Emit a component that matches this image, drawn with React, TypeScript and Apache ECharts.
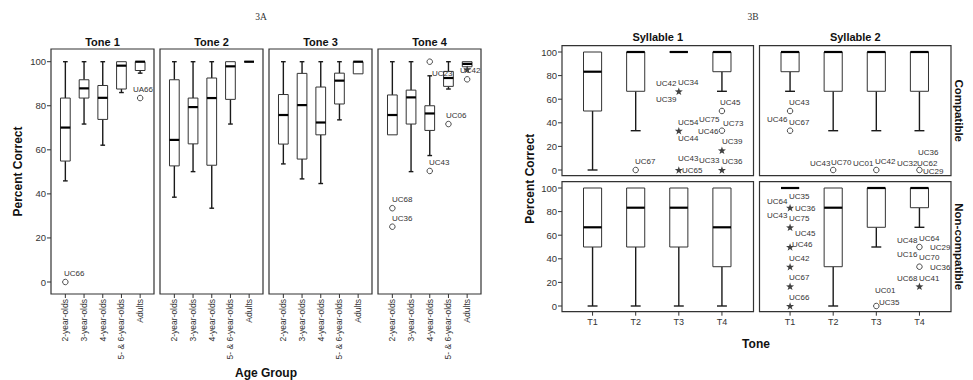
import React, { useEffect, useRef } from "react";
import * as echarts from "echarts";

// ---------------- data ----------------
const AGE_GROUPS = ["2-year-olds", "3-year-olds", "4-year-olds", "5- & 6-year-olds", "Adults"];
const TONE_TITLES = ["Tone 1", "Tone 2", "Tone 3", "Tone 4"];
const TONE_NAMES = ["T1", "T2", "T3", "T4"];
const SYLLABLE_TITLES = ["Syllable 1", "Syllable 2"];
const CONDITION_TITLES = ["Compatible", "Non-compatible"];
const Y_TICKS = [0, 20, 40, 60, 80, 100];

// box stats per category: [low whisker, Q1, median, Q3, high whisker]
const TONE1_BOXES = [
  [45.9, 54.9, 70.1, 83.5, 100],
  [71.7, 83.5, 87.9, 91.8, 100],
  [62.1, 73.8, 83.6, 89.2, 100],
  [86.0, 87.6, 98.2, 100, 100],
  [94.8, 96.0, 100, 100, 100],
];
const TONE2_BOXES = [
  [38.5, 52.7, 64.5, 91.8, 100],
  [50.1, 62.7, 79.4, 83.5, 100],
  [33.5, 53.0, 83.5, 92.6, 100],
  [71.7, 82.9, 97.9, 100, 100],
  [100, 100, 100, 100, 100],
];
const TONE3_BOXES = [
  [53.6, 62.6, 75.8, 85.1, 100],
  [46.8, 55.8, 80.3, 94.7, 100],
  [44.7, 66.8, 72.4, 88.5, 100],
  [73.6, 80.8, 91.4, 94.8, 100],
  [94.5, 94.5, 100, 100, 100],
];
const TONE4_BOXES = [
  [66.8, 66.8, 75.8, 84.9, 100],
  [50.1, 71.7, 83.8, 87.1, 100],
  [57.4, 68.8, 76.5, 80.0, 93.6],
  [87.6, 88.8, 92.6, 95.6, 100],
  [97.7, 97.7, 99.0, 100, 100],
];
// outliers: [category index, value, marker]
const TONE1_OUTLIERS = [[0, 0, "circle"], [4, 83.5, "circle"]];
const TONE4_OUTLIERS = [
  [0, 33.5, "circle"], [0, 25.1, "circle"], [2, 100, "circle"], [2, 50.4, "circle"],
  [3, 71.7, "circle"], [4, 96.5, "star"], [4, 92, "circle"],
];
// case labels: [category index, value, text]
const TONE1_LABELS = [[0, 0, "UC66"], [4, 83.5, "UA66"]];
const TONE1_LABEL_OFFSETS = [[-1, -9], [-7, -9]];
const TONE4_LABELS = [
  [0, 33.5, "UC68"], [0, 25.1, "UC36"], [2, 100, "UC23"], [2, 50.4, "UC43"],
  [3, 71.7, "UC06"], [4, 96.5, "UC42"],
];
const TONE4_LABEL_OFFSETS = [[0, -9], [0, -9], [2, 11], [-1, -9], [-2, -9], [-7, 1]];

const SYL1_COMP_BOXES = [
  [0, 50, 83.3, 100, 100],
  [33.3, 66.7, 100, 100, 100],
  [100, 100, 100, 100, 100],
  [66.7, 83.3, 100, 100, 100],
];
const SYL2_COMP_BOXES = [
  [66.7, 83.3, 100, 100, 100],
  [33.3, 66.7, 100, 100, 100],
  [33.3, 66.7, 100, 100, 100],
  [33.3, 66.7, 100, 100, 100],
];
const SYL1_NONCOMP_BOXES = [
  [0, 50, 66.7, 100, 100],
  [0, 50, 83.3, 100, 100],
  [0, 50, 83.3, 100, 100],
  [0, 33.3, 66.7, 100, 100],
];
const SYL2_NONCOMP_BOXES = [
  [100, 100, 100, 100, 100],
  [0, 33.3, 83.3, 100, 100],
  [50, 66.7, 100, 100, 100],
  [66.7, 83.3, 100, 100, 100],
];
const SYL1_COMP_OUTLIERS = [
  [1, 0, "circle"], [2, 66.7, "star"], [2, 33.3, "star"], [2, 0, "star"],
  [3, 50, "circle"], [3, 33.3, "circle"], [3, 16.7, "star"], [3, 0, "star"],
];
const SYL1_COMP_LABELS = [
  [1, 0, "UC67"],
  [2, 66.7, "UC42"], [2, 66.7, "UC34"], [2, 66.7, "UC39"],
  [2, 33.3, "UC54"], [2, 33.3, "UC75"], [2, 33.3, "UC44"],
  [2, 0, "UC43"], [2, 0, "UC33"], [2, 0, "UC65"],
  [3, 50, "UC45"], [3, 33.3, "UC46"], [3, 33.3, "UC73"], [3, 16.7, "UC39"], [3, 0, "UC36"],
];
const SYL1_COMP_LABEL_OFFSETS = [
  [-1, -9],
  [-23, -8], [-1, -9.5], [-23, 8],
  [-1, -9], [20, -11.5], [-1, 7],
  [-1, -12.5], [20, -10], [3, 0],
  [-2, -9.5], [-24, 0], [1, -7.5], [0, -9], [0, -9.5],
];
const SYL2_COMP_OUTLIERS = [
  [0, 50, "circle"], [0, 33.3, "circle"], [1, 0, "circle"], [2, 0, "circle"], [3, 0, "circle"],
];
const SYL2_COMP_LABELS = [
  [0, 50, "UC43"], [0, 33.3, "UC46"], [0, 33.3, "UC67"],
  [1, 0, "UC43"], [1, 0, "UC70"], [2, 0, "UC01"], [2, 0, "UC42"],
  [3, 0, "UC32"], [3, 0, "UC62"], [3, 0, "UC36"], [3, 0, "UC29"],
];
const SYL2_COMP_LABEL_OFFSETS = [
  [-1, -9], [-23, -11.5], [-1, -8.5],
  [-23, -7.5], [-2, -8.5], [-23, -7.5], [-1, -9],
  [-22, -7.5], [-2, -7.5], [-1, -18.5], [4, 1],
];
const SYL2_NONCOMP_OUTLIERS = [
  [0, 83.3, "star"], [0, 66.7, "star"], [0, 50, "star"], [0, 33.3, "star"], [0, 16.7, "star"], [0, 0, "star"],
  [2, 0, "circle"], [3, 50, "circle"], [3, 33.3, "circle"], [3, 16.7, "star"],
];
const SYL2_NONCOMP_LABELS = [
  [0, 83.3, "UC64"], [0, 83.3, "UC35"], [0, 83.3, "UC36"],
  [0, 66.7, "UC43"], [0, 66.7, "UC75"],
  [0, 50, "UC45"], [0, 50, "UC46"],
  [0, 33.3, "UC42"], [0, 16.7, "UC67"], [0, 0, "UC66"],
  [2, 0, "UC01"], [2, 0, "UC35"],
  [3, 50, "UC48"], [3, 50, "UC64"], [3, 50, "UC29"],
  [3, 33.3, "UC16"], [3, 33.3, "UC70"], [3, 33.3, "UC36"],
  [3, 16.7, "UC68"], [3, 16.7, "UC41"],
];
const SYL2_NONCOMP_LABEL_OFFSETS = [
  [-23, -7], [-1, -12], [5, 0.5],
  [-23, -12], [-1, -9.5],
  [5, -14], [2, -3],
  [-1, -9], [-1, -9.5], [-1, -9.5],
  [-1, -16.5], [3, -4],
  [-22, -7.5], [0, -9.5], [11, 0],
  [-22, -12.5], [0, -10], [11, 0],
  [-22, -8], [0, -8.5],
];

// ---------------- layout ----------------
const FONT = '"Liberation Sans", Arial, Helvetica, sans-serif';
const SERIF = '"Liberation Serif", "Times New Roman", serif';
const STAR =
  "path://M0,-10L2.35,-3.24L9.51,-3.09L3.8,1.24L5.88,8.09L0,4L-5.88,8.09L-3.8,1.24L-9.51,-3.09L-2.35,-3.24Z";

const A_LEFTS = [51, 160, 269, 378];
const A_TOP = 49;
const A_W = 103;
const A_H = 245;
const B_LEFTS = [562, 759.5];
const B_TOPS = [45.7, 181.7];
const B_W = 191.5;
const B_H = 130;
const TICK_LEN = 4;
const TICK_STYLE = { stroke: "#333", lineWidth: 1 };

function boxRenderer(ratio: number, capRatio: number) {
  return (params: any, api: any) => {
    const cat = api.value(0);
    const band = api.size([1, 0])[0];
    const bw = band * ratio;
    const cw = band * capRatio;
    const pts = [1, 2, 3, 4, 5].map((d) => api.coord([cat, api.value(d)]));
    const [low, q1, med, q3, high] = pts;
    const x = low[0];
    const whisker = { stroke: "#1a1a1a", lineWidth: 1.4 };
    const children: any[] = [];
    if (high[1] < q3[1] - 0.5) {
      children.push({ type: "line", shape: { x1: x, y1: high[1], x2: x, y2: q3[1] }, style: whisker });
      children.push({ type: "line", shape: { x1: x - cw / 2, y1: high[1], x2: x + cw / 2, y2: high[1] }, style: whisker });
    }
    if (low[1] > q1[1] + 0.5) {
      children.push({ type: "line", shape: { x1: x, y1: q1[1], x2: x, y2: low[1] }, style: whisker });
      children.push({ type: "line", shape: { x1: x - cw / 2, y1: low[1], x2: x + cw / 2, y2: low[1] }, style: whisker });
    }
    children.push({
      type: "rect",
      shape: { x: x - bw / 2, y: q3[1], width: bw, height: q1[1] - q3[1] },
      style: { fill: "#fff", stroke: "#333", lineWidth: 1 },
    });
    children.push({
      type: "line",
      shape: { x1: x - bw / 2, y1: med[1], x2: x + bw / 2, y2: med[1] },
      style: { stroke: "#000", lineWidth: 2.2 },
    });
    return { type: "group", children };
  };
}

function labelRenderer(labels: any[], offsets: number[][]) {
  return (params: any, api: any) => {
    const p = api.coord([api.value(0), api.value(1)]);
    const off = offsets[params.dataIndex];
    return {
      type: "text",
      x: Math.round(p[0] + off[0]),
      y: Math.round(p[1] + off[1]),
      style: {
        legacy: false,
        text: labels[params.dataIndex][2],
        fill: "#333",
        textFill: "#333",
        font: `8px ${FONT}`,
        align: "left",
        verticalAlign: "middle",
      },
    };
  };
}

// tick marks outside the panel frame, placed through the axes' own scales
function xTickRenderer(gap: number) {
  return (params: any, api: any) => {
    const p = api.coord([api.value(0), 0]);
    return {
      type: "line",
      shape: { x1: p[0], y1: p[1] + gap, x2: p[0], y2: p[1] + gap + TICK_LEN },
      style: TICK_STYLE,
    };
  };
}
function yTickRenderer(gap: number) {
  return (params: any, api: any) => {
    const p = api.coord([0, api.value(1)]);
    const band = api.size([1, 0])[0];
    const xl = p[0] - band / 2 - gap;
    return {
      type: "line",
      shape: { x1: xl - TICK_LEN, y1: p[1], x2: xl, y2: p[1] },
      style: TICK_STYLE,
    };
  };
}

function outlierData(list: any[]) {
  return list.map((o) => {
    const star = o[2] === "star";
    return {
      value: [o[0], o[1]],
      symbol: star ? STAR : "circle",
      symbolSize: star ? 8 : 5.5,
      symbolKeepAspect: true,
      itemStyle: star
        ? { color: "#111", borderWidth: 0 }
        : { color: "#fff", borderColor: "#222", borderWidth: 1 },
    };
  });
}

function text(x: number, y: number, t: string, size: number, opts: any = {}) {
  return {
    type: "text",
    x,
    y,
    rotation: opts.rotation || 0,
    style: {
      text: t,
      fill: opts.color || "#111",
      font: `${opts.weight || "normal"} ${size}px ${opts.family || FONT}`,
      align: "center",
      verticalAlign: "middle",
    },
  };
}

function buildOption() {
  const grids: any[] = [];
  const xAxes: any[] = [];
  const yAxes: any[] = [];
  const series: any[] = [];
  const graphics: any[] = [];

  const panelsA = [
    { boxes: TONE1_BOXES, outliers: TONE1_OUTLIERS, labels: TONE1_LABELS, offsets: TONE1_LABEL_OFFSETS },
    { boxes: TONE2_BOXES, outliers: [], labels: [], offsets: [] },
    { boxes: TONE3_BOXES, outliers: [], labels: [], offsets: [] },
    { boxes: TONE4_BOXES, outliers: TONE4_OUTLIERS, labels: TONE4_LABELS, offsets: TONE4_LABEL_OFFSETS },
  ];
  const panelsB = [
    { c: 0, r: 0, boxes: SYL1_COMP_BOXES, outliers: SYL1_COMP_OUTLIERS, labels: SYL1_COMP_LABELS, offsets: SYL1_COMP_LABEL_OFFSETS },
    { c: 1, r: 0, boxes: SYL2_COMP_BOXES, outliers: SYL2_COMP_OUTLIERS, labels: SYL2_COMP_LABELS, offsets: SYL2_COMP_LABEL_OFFSETS },
    { c: 0, r: 1, boxes: SYL1_NONCOMP_BOXES, outliers: [], labels: [], offsets: [] },
    { c: 1, r: 1, boxes: SYL2_NONCOMP_BOXES, outliers: SYL2_NONCOMP_OUTLIERS, labels: SYL2_NONCOMP_LABELS, offsets: SYL2_NONCOMP_LABEL_OFFSETS },
  ];

  const addSeries = (gi: number, p: any, ratio: number, capRatio: number) => {
    series.push({
      type: "custom",
      xAxisIndex: gi,
      yAxisIndex: gi,
      renderItem: boxRenderer(ratio, capRatio),
      encode: { x: 0, y: [1, 2, 3, 4, 5] },
      data: p.boxes.map((b: number[], i: number) => [i, ...b]),
      itemStyle: { color: "#333" },
      z: 2,
    });
    if (p.outliers.length) {
      series.push({
        type: "scatter",
        xAxisIndex: gi,
        yAxisIndex: gi,
        clip: false,
        data: outlierData(p.outliers),
        z: 3,
      });
    }
    if (p.labels.length) {
      series.push({
        type: "custom",
        xAxisIndex: gi,
        yAxisIndex: gi,
        clip: false,
        renderItem: labelRenderer(p.labels, p.offsets),
        encode: { x: 0, y: 1 },
        itemStyle: { color: "#333" },
        data: p.labels.map((l: any[]) => [l[0], l[1]]),
        z: 4,
      });
    }
  };

  const addTicks = (gi: number, cats: string[], xGap: number | null, yGap: number | null) => {
    if (xGap !== null) {
      series.push({
        type: "custom",
        xAxisIndex: gi,
        yAxisIndex: gi,
        clip: false,
        silent: true,
        renderItem: xTickRenderer(xGap),
        encode: { x: 0, y: 1 },
        data: cats.map((_, i) => [i, 0]),
      });
    }
    if (yGap !== null) {
      series.push({
        type: "custom",
        xAxisIndex: gi,
        yAxisIndex: gi,
        clip: false,
        silent: true,
        renderItem: yTickRenderer(yGap),
        encode: { x: 0, y: 1 },
        data: Y_TICKS.map((v) => [0, v]),
      });
    }
  };

  // ----- Figure 3A -----
  panelsA.forEach((p, i) => {
    const gi = grids.length;
    grids.push({ left: A_LEFTS[i] + 5, top: 61.7, width: 93.5, height: 220.3 });
    xAxes.push({
      type: "category",
      gridIndex: gi,
      data: AGE_GROUPS,
      offset: 12,
      axisLine: { show: false, onZero: false },
      axisTick: { show: false },
      axisLabel: { rotate: 90, interval: 0, fontSize: 8.5, fontFamily: FONT, color: "#333", margin: 5 },
      splitLine: { show: false },
    });
    yAxes.push({
      type: "value",
      gridIndex: gi,
      min: 0,
      max: 100,
      interval: 20,
      offset: 5,
      show: i === 0,
      axisLine: { show: false, onZero: false },
      axisTick: { show: false },
      axisLabel: { fontSize: 9.5, fontFamily: FONT, color: "#333", margin: 5 },
      splitLine: { show: false },
    });
    addSeries(gi, p, 0.52, 0.25);
    addTicks(gi, AGE_GROUPS, 12, i === 0 ? 5 : null);
    graphics.push({
      type: "rect",
      shape: { x: A_LEFTS[i], y: A_TOP, width: A_W, height: A_H },
      style: { fill: "none", stroke: "#333", lineWidth: 1.2 },
      z: 1,
    });
    graphics.push(text(A_LEFTS[i] + A_W / 2, 41.7, TONE_TITLES[i], 11, { weight: "bold" }));
  });

  // ----- Figure 3B -----
  panelsB.forEach((p) => {
    const gi = grids.length;
    const fl = B_LEFTS[p.c];
    const ft = B_TOPS[p.r];
    grids.push({ left: fl + 9, top: ft + 6.3, width: 172.5, height: 118 });
    xAxes.push({
      type: "category",
      gridIndex: gi,
      data: TONE_NAMES,
      offset: 5.7,
      show: p.r === 1,
      axisLine: { show: false, onZero: false },
      axisTick: { show: false },
      axisLabel: { interval: 0, fontSize: 9, fontFamily: FONT, color: "#333", margin: 6 },
      splitLine: { show: false },
    });
    yAxes.push({
      type: "value",
      gridIndex: gi,
      min: 0,
      max: 100,
      interval: 20,
      offset: 9,
      show: p.c === 0,
      axisLine: { show: false, onZero: false },
      axisTick: { show: false },
      axisLabel: { fontSize: 9.5, fontFamily: FONT, color: "#333", margin: 5 },
      splitLine: { show: false },
    });
    addSeries(gi, p, 0.42, 0.23);
    addTicks(gi, TONE_NAMES, p.r === 1 ? 5.7 : null, p.c === 0 ? 9 : null);
    graphics.push({
      type: "rect",
      shape: { x: fl, y: ft, width: B_W, height: B_H },
      style: { fill: "none", stroke: "#333", lineWidth: 1.2 },
      z: 1,
    });
  });

  SYLLABLE_TITLES.forEach((t, c) => graphics.push(text(B_LEFTS[c] + B_W / 2, 36.7, t, 11, { weight: "bold" })));
  CONDITION_TITLES.forEach((t, r) =>
    graphics.push(text(959, B_TOPS[r] + B_H / 2, t, 11.5, { weight: "bold", rotation: -Math.PI / 2 }))
  );

  graphics.push(text(261, 17, "3A", 9.5, { family: SERIF, color: "#333" }));
  graphics.push(text(753, 17, "3B", 9.5, { family: SERIF, color: "#333" }));
  graphics.push(text(18, 171.5, "Percent Correct", 12, { weight: "bold", rotation: Math.PI / 2 }));
  graphics.push(text(266, 373, "Age Group", 12, { weight: "bold" }));
  graphics.push(text(530, 178.7, "Percent Correct", 12, { weight: "bold", rotation: Math.PI / 2 }));
  graphics.push(text(756, 344, "Tone", 12, { weight: "bold" }));

  return {
    animation: false,
    backgroundColor: "#fff",
    textStyle: { fontFamily: FONT },
    grid: grids,
    xAxis: xAxes,
    yAxis: yAxes,
    series,
    graphic: { elements: graphics },
  };
}

export default function App() {
  const ref = useRef<HTMLDivElement>(null);
  useEffect(() => {
    if (!ref.current) return;
    const chart = echarts.init(ref.current, undefined, { renderer: "svg" });
    chart.setOption(buildOption() as any);
    return () => chart.dispose();
  }, []);
  return (
    <div
      ref={ref}
      style={{ position: "absolute", left: 0, top: 0, width: 973, height: 380, background: "#fff" }}
    />
  );
}
